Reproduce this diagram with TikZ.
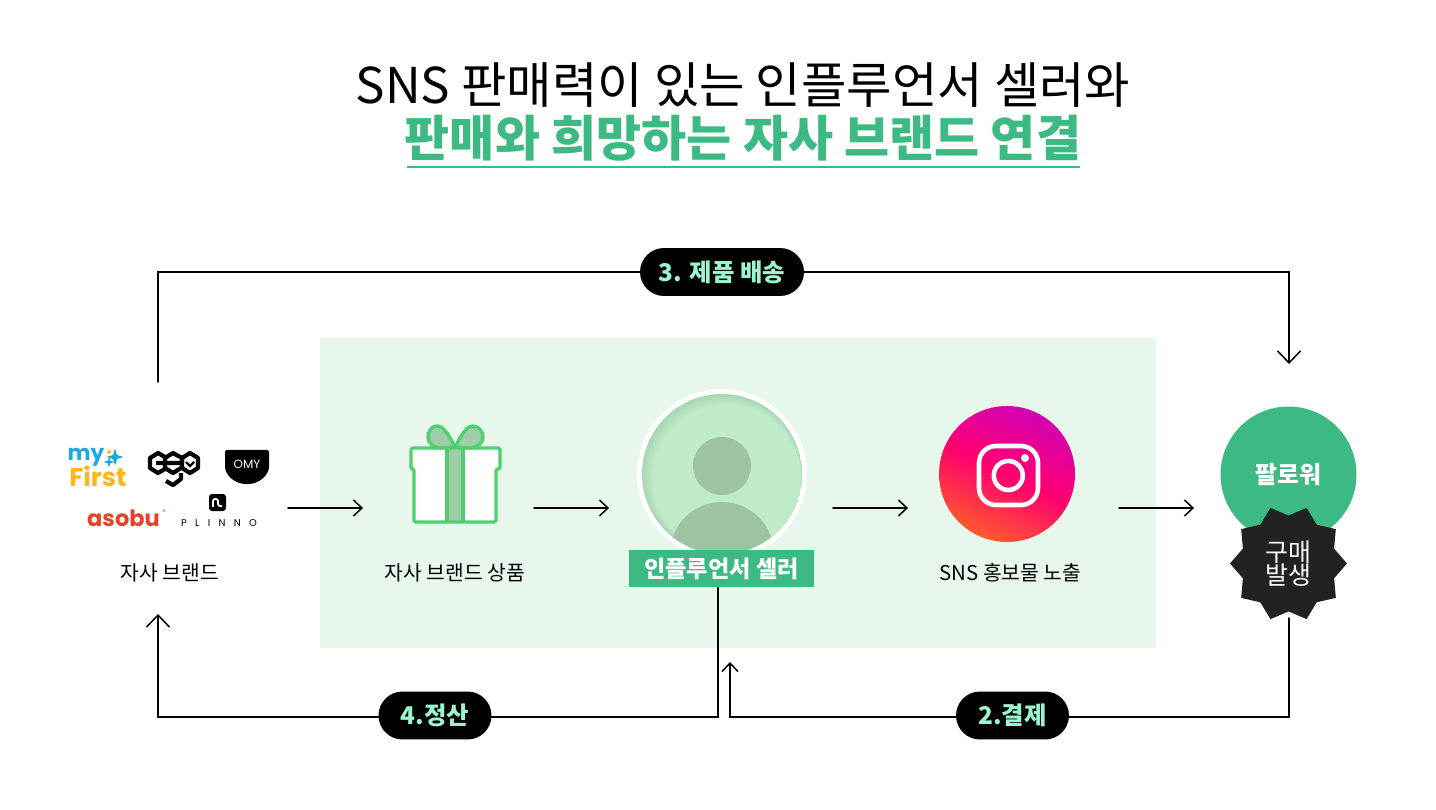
\documentclass[tikz,border=0pt]{standalone}
\usepackage{fontspec}
\setmainfont{Noto Sans CJK KR}
\newfontfamily\logofont{Poppins}
\usetikzlibrary{arrows.meta,shapes.geometric}
\definecolor{brandgreen}{HTML}{3DB983}
\definecolor{panelgreen}{HTML}{E7F7EC}
\definecolor{giftgreen}{HTML}{4FD06E}
\definecolor{ribbongreen}{HTML}{A0CDA8}
\definecolor{avatarlight}{HTML}{BFEBC9}
\definecolor{avatardark}{HTML}{A9D7B3}
\definecolor{avatarshape}{HTML}{9DC3A3}
\definecolor{pilltext}{HTML}{9BF5CE}
\definecolor{badgeblack}{HTML}{222222}
\definecolor{instapurple}{HTML}{D200B4}
\definecolor{instapink}{HTML}{FF0070}
\definecolor{instaorange}{HTML}{FF5A2C}
\definecolor{myblue}{HTML}{1CA9E1}
\definecolor{myyellow}{HTML}{FDB51B}
\definecolor{asobured}{HTML}{E8412A}
\tikzset{
	flow/.style={line width=0.85pt, black, line cap=round},
	flowtip/.style={flow, -{Straight Barb[length=0.17cm, width=0.32cm, line width=0.85pt]}},
	flowbigtip/.style={flow, -{Straight Barb[length=0.24cm, width=0.46cm, line width=0.85pt]}},
	slot/.style={minimum height=2pt, inner sep=0pt, outer sep=0pt},
	caption/.style={font=\fontsize{11.6}{14}\selectfont, black, inner sep=0pt},
	pill/.style={fill=black, rounded corners=0.48cm, minimum height=0.96cm, inner sep=0pt, text=pilltext, font=\fontsize{13.9}{16}\selectfont\bfseries},
	sparkle/.style={star, star points=4, star point ratio=3, inner sep=0pt, outer sep=0pt},
	giftline/.style={giftgreen, line width=1.9pt, line join=round}
}
\begin{document}
\begin{tikzpicture}[x=0.02cm, y=-0.02cm]
	\useasboundingbox (0, 0) rectangle (1436, 810);
	\fill[white] (0, 0) rectangle (1436, 810);

	\node[inner sep=0pt, font=\fontsize{28.1}{30}\selectfont] (titletop) at (743, 85) {SNS 판매력이 있는 인플루언서 셀러와};
	\node[inner sep=0pt, text=brandgreen, font=\fontsize{27.9}{30}\selectfont\bfseries] (titlebottom) at (743, 138) {판매와 희망하는 자사 브랜드 연결};
	\draw[brandgreen, line width=1.2pt] (407, 167) -- (1080, 167);

	\fill[panelgreen] (320, 338) rectangle (1156, 648);

	\node[slot, minimum width=4.72cm] (brandslot) at (170, 508) {};
	\node[slot, minimum width=3.42cm] (giftslot) at (448.5, 508) {};
	\node[slot, minimum width=4.48cm] (sellerslot) at (721, 508) {};
	\node[slot, minimum width=4.22cm] (snsslot) at (1013.5, 508) {};
	\node[slot, minimum width=3.76cm] (followerslot) at (1288, 508) {};
	\draw[flowtip] (brandslot) -- (giftslot);
	\draw[flowtip] (giftslot) -- (sellerslot);
	\draw[flowtip] (sellerslot) -- (snsslot);
	\draw[flowtip] (snsslot) -- (followerslot);

	\coordinate (shipstart) at (158, 382);
	\coordinate (shipmid) at (722, 272);
	\coordinate (shipend) at (1289, 364);
	\draw[flowbigtip] (shipstart) |- (shipmid) -| (shipend);
	\node[pill, minimum width=3.28cm] (shippill) at (shipmid) {\raisebox{-1pt}{3. 제품 배송}};

	\coordinate (settlestart) at (718, 587);
	\coordinate (settlemid) at (435, 717);
	\coordinate (settleend) at (158, 614);
	\draw[flowbigtip] (settlestart) |- (settlemid) -| (settleend);
	\node[pill, minimum width=2.26cm] (settlepill) at (435, 715.5) {\raisebox{-1pt}{4.정산}};

	\coordinate (paystart) at (1289, 618);
	\coordinate (paymid) at (1012, 717);
	\coordinate (payend) at (730, 662);
	\draw[flowtip] (paystart) |- (paymid) -| (payend);
	\node[pill, minimum width=2.26cm] (paypill) at (1012.5, 715.5) {\raisebox{-1pt}{2.결제}};

	\node[caption] (brandtext) at (170, 572.5) {자사 브랜드};
	\node[caption] (gifttext) at (455, 572.5) {자사 브랜드 상품};
	\node[caption] (snstext) at (1010.5, 572.5) {SNS 홍보물 노출};

	\fill[white] (414, 469) rectangle (496, 522);
	\fill[white] (411, 448) rectangle (500, 469);
	\fill[ribbongreen] (447, 448) rectangle (463, 522);
	\draw[giftline, rounded corners=0.03cm] (411, 448) -- (500, 448) -- (500, 469) -- (496, 469) -- (496, 522) -- (414, 522) -- (414, 469) -- (411, 469) -- cycle;
	\draw[giftline] (447, 448) -- (447, 522);
	\draw[giftline] (463, 448) -- (463, 522);
	\draw[giftline, fill=ribbongreen] (455, 447) .. controls (447, 432) and (443, 426) .. (437, 426) .. controls (431, 426) and (428, 432) .. (428, 437) .. controls (428, 443) and (433, 447) .. (439, 448) -- cycle;
	\draw[giftline, fill=ribbongreen] (455, 447) .. controls (463, 432) and (467, 426) .. (473, 426) .. controls (479, 426) and (483, 432) .. (483, 437) .. controls (483, 443) and (478, 447) .. (471, 448) -- cycle;

	\fill[white] (722, 474) circle[radius=85];
	\begin{scope}
		\clip (722, 474) circle[radius=80];
		\fill[avatardark] (722, 474) circle[radius=80];
		\foreach \i in {1, ..., 10} {
			\pgfmathsetmacro{\shademix}{\i * 10}
			\fill[avatarlight!\shademix!avatardark] (722 + \i * 0.5, 474 + \i * 0.5) circle[radius=80 - \i * 0.6];
		}
		\fill[avatarshape] (722, 466) circle[radius=29];
		\fill[avatarshape] (722, 554) circle[radius=52];
	\end{scope}
	\node[fill=brandgreen, text=white, minimum width=3.7cm, minimum height=0.74cm, inner sep=0pt, font=\fontsize{13.2}{16}\selectfont\bfseries] (sellerlabel) at (721.5, 568.5) {\raisebox{-2pt}{인플루언서 셀러}};

	\shade[top color=instapurple, bottom color=instaorange, middle color=instapink, shading angle=-25] (1007, 474) circle[radius=68];
	\draw[white, line width=2.6pt, rounded corners=0.34cm] (979, 446) rectangle (1038, 505);
	\draw[white, line width=2.6pt] (1008.3, 475.5) circle[radius=14.5];
	\fill[white] (1025, 458) circle[radius=4];

	\node[circle, fill=brandgreen, text=white, minimum size=2.72cm, inner sep=0pt, font=\fontsize{13.6}{15}\selectfont\bfseries] (follower) at (1288.5, 474.5) {\raisebox{-2pt}{팔로워}};
	\node[star, star points=10, star point ratio=1.22, shape border rotate=18, fill=badgeblack, text=white, minimum size=2.34cm, inner sep=0pt, align=center, font=\fontsize{14.2}{13.4}\selectfont] (badge) at (1288.5, 563.5) {\raisebox{-1pt}{구매}\\\raisebox{-1pt}{발생}};

	\node[text=myblue, inner sep=0pt, font=\logofont\fontsize{12.4}{14}\selectfont\bfseries] (logomy) at (86, 457) {my};
	\node[text=myyellow, inner sep=0pt, font=\logofont\fontsize{14.6}{14}\selectfont\bfseries] (logofirst) at (98, 476) {First};
	\node[sparkle, fill=myblue, minimum size=0.34cm] (sparkbig) at (115, 457) {};
	\node[sparkle, fill=myblue, minimum size=0.22cm] (sparksmall) at (109, 462) {};
	\node[sparkle, fill=myyellow, minimum size=0.14cm] (sparktop) at (109, 452) {};

	\draw[black, line width=2.4pt, line join=round] (165, 457) -- (158, 453) -- (150, 458) -- (150, 468) -- (158, 473) -- (165, 469);
	\draw[black, line width=2.4pt, line join=round] (156, 463) -- (182, 463) -- (182, 458) -- (173, 453) -- (165, 458) -- (165, 468) -- (173, 473) -- (181, 468);
	\draw[black, line width=2.4pt, line join=round] (182, 458) -- (190, 453) -- (198, 458) -- (198, 468) -- (190, 473) -- (182, 468) -- (182, 458);
	\draw[black, line width=2.4pt, line join=round] (181, 473) -- (181, 479) -- (173, 485) -- (166, 481);
	\draw[black, line width=1.4pt] (186, 462) -- (190, 466) -- (194, 462);

	\fill[black, rounded corners=0.03cm] (225, 450) -- (269, 450) -- (269, 465) .. controls (269, 476) and (258, 484) .. (247, 484) .. controls (236, 484) and (225, 476) .. (225, 465) -- cycle;
	\node[text=white, inner sep=0pt, font=\logofont\fontsize{6.8}{8}\selectfont] (logoomy) at (247, 464) {OMY};

	\node[text=asobured, inner sep=0pt, font=\logofont\fontsize{12.8}{16}\selectfont\bfseries] (logoasobu) at (123.5, 518.5) {asobu};
	\node[text=asobured, inner sep=0pt, font=\logofont\fontsize{4}{5}\selectfont] (logoreg) at (164, 512) {®};

	\fill[black, rounded corners=0.06cm] (209, 494) rectangle (226, 511);
	\draw[white, line width=1pt, rounded corners=0.04cm] (213, 507) -- (213, 499) -- (218, 499) -- (218, 506) -- (222, 506);
	\node[inner sep=0pt, font=\logofont\fontsize{5.6}{7}\selectfont\addfontfeature{LetterSpace=85}] (logoplinno) at (219, 523) {PLINNO};
\end{tikzpicture}
\end{document}
